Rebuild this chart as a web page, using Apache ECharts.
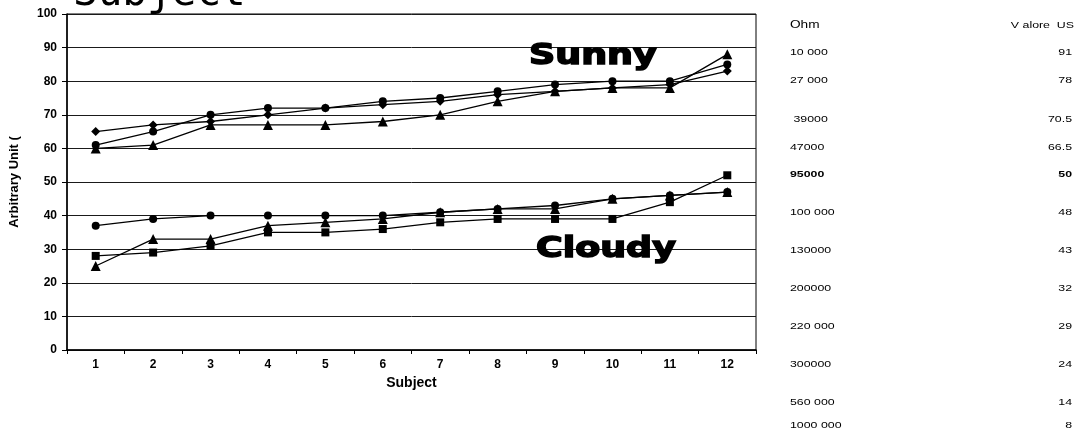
<!DOCTYPE html>
<html>
<head>
<meta charset="utf-8">
<script src="https://cdn.jsdelivr.net/npm/echarts@6/dist/echarts.min.js"></script>
<style>
  html, body { margin: 0; padding: 0; background: #fff; }
  #chart { width: 1085px; height: 437px; }
</style>
</head>
<body>
<div id="chart"></div>
<script>
// Subjects along the x axis
const subjects = ['1', '2', '3', '4', '5', '6', '7', '8', '9', '10', '11', '12'];

// Sunny readings
const sunnyDiamond  = [65, 67, 68, 70, 72, 73, 74, 76, 77, 78, 79, 83];
const sunnyCircle   = [61, 65, 70, 72, 72, 74, 75, 77, 79, 80, 80, 85];
const sunnyTriangle = [60, 61, 67, 67, 67, 68, 70, 74, 77, 78, 78, 88];

// Cloudy readings
const cloudyCircle   = [37, 39, 40, 40, 40, 40, 41, 42, 43, 45, 46, 47];
const cloudyTriangle = [25, 33, 33, 37, 38, 39, 41, 42, 42, 45, 46, 47];
const cloudySquare   = [28, 29, 31, 35, 35, 36, 38, 39, 39, 39, 44, 52];

// Resistance / value reference table
const ohmLabels   = ['10 000', '27 000', ' 39000', '47000', '95000', '100 000', '130000', '200000', '220 000', '300000', '560 000', '1000 000'];
const valueLabels = ['91', '78', '70.5', '66.5', '50', '48', '43', '32', '29', '24', '14', '8'];
const boldRow = '95000';

// table layout (row centres, px)
const tableRowY = [52, 80, 119, 147, 174, 212, 250, 288, 326, 364, 402, 425];
const tableLeftX = 790;
const tableRightX = 1072;
const wideScale = 1.3;

const chart = echarts.init(document.getElementById('chart'));

function lineSeries(name, data, symbol, size) {
  return {
    name: name,
    type: 'line',
    data: data,
    symbol: symbol,
    symbolSize: size,
    showSymbol: true,
    animation: false,
    lineStyle: { color: '#000', width: 1.3 },
    itemStyle: { color: '#000' },
    z: 3
  };
}

function tableText(x, y, text, align, font) {
  return {
    type: 'text', x: x, y: y, scaleX: wideScale, z: 5,
    style: { text: text, font: font, fill: '#000', align: align, verticalAlign: 'middle' }
  };
}

const tableEls = [];
tableEls.push(tableText(tableLeftX, 25, 'Ohm', 'left', '10.5px "Liberation Sans"'));
tableEls.push(tableText(tableRightX + 2, 25, 'V alore  US', 'right', '9.5px "Liberation Sans"'));
ohmLabels.forEach(function (t, i) {
  const font = (t === boldRow ? 'bold ' : '') + '9.5px "Liberation Sans"';
  tableEls.push(tableText(tableLeftX, tableRowY[i], t, 'left', font));
  tableEls.push(tableText(tableRightX, tableRowY[i], valueLabels[i], 'right', font));
});

function bigLabel(x, y, text) {
  return {
    type: 'text', x: x, y: y, scaleX: wideScale, z: 10,
    style: { text: text, font: '900 28px "DejaVu Sans"', fill: '#000', stroke: '#000', lineWidth: 1.5,
             align: 'left', verticalAlign: 'middle' }
  };
}

chart.setOption({
  animation: false,
  backgroundColor: '#fff',
  grid: {
    left: 67, right: 329, top: 14, bottom: 87,
    show: true, borderColor: '#000', borderWidth: 1, backgroundColor: 'transparent'
  },
  xAxis: {
    type: 'category',
    data: subjects,
    boundaryGap: true,
    name: 'Subject',
    nameLocation: 'middle',
    nameGap: 25,
    nameTextStyle: { fontFamily: 'Liberation Sans', fontWeight: 'bold', fontSize: 14, color: '#000' },
    axisLine: { lineStyle: { color: '#000', width: 1.5 } },
    axisTick: { show: true, inside: false, length: 4, lineStyle: { color: '#000' } },
    axisLabel: { fontFamily: 'Liberation Sans', fontWeight: 'bold', fontSize: 12, color: '#000', margin: 9 },
    splitLine: { show: false }
  },
  yAxis: {
    type: 'value',
    min: 0, max: 100, interval: 10,
    name: 'Arbitrary Unit (',
    nameLocation: 'middle',
    nameGap: 46,
    nameTextStyle: { fontFamily: 'Liberation Sans', fontWeight: 'bold', fontSize: 13, color: '#000' },
    axisLine: { show: true, lineStyle: { color: '#000', width: 1.5 } },
    axisTick: { show: true, inside: false, length: 5, lineStyle: { color: '#000' } },
    axisLabel: { fontFamily: 'Liberation Sans', fontWeight: 'bold', fontSize: 12, color: '#000', margin: 10 },
    splitLine: { show: true, lineStyle: { color: '#1a1a1a', width: 1 } }
  },
  series: [
    lineSeries('Sunny diamond', sunnyDiamond, 'diamond', 9),
    lineSeries('Sunny circle', sunnyCircle, 'circle', 8),
    lineSeries('Sunny triangle', sunnyTriangle, 'triangle', 10),
    lineSeries('Cloudy circle', cloudyCircle, 'circle', 8),
    lineSeries('Cloudy triangle', cloudyTriangle, 'triangle', 10),
    lineSeries('Cloudy square', cloudySquare, 'rect', 8)
  ],
  graphic: [
    { type: 'text', x: 73, y: 15, z: 5,
      style: { text: 'Subject', font: '41px "DejaVu Sans Mono"', fill: '#000',
               align: 'left', verticalAlign: 'bottom' } },
    bigLabel(529, 57, 'Sunny'),
    bigLabel(536, 250, 'Cloudy')
  ].concat(tableEls)
});
</script>
</body>
</html>
